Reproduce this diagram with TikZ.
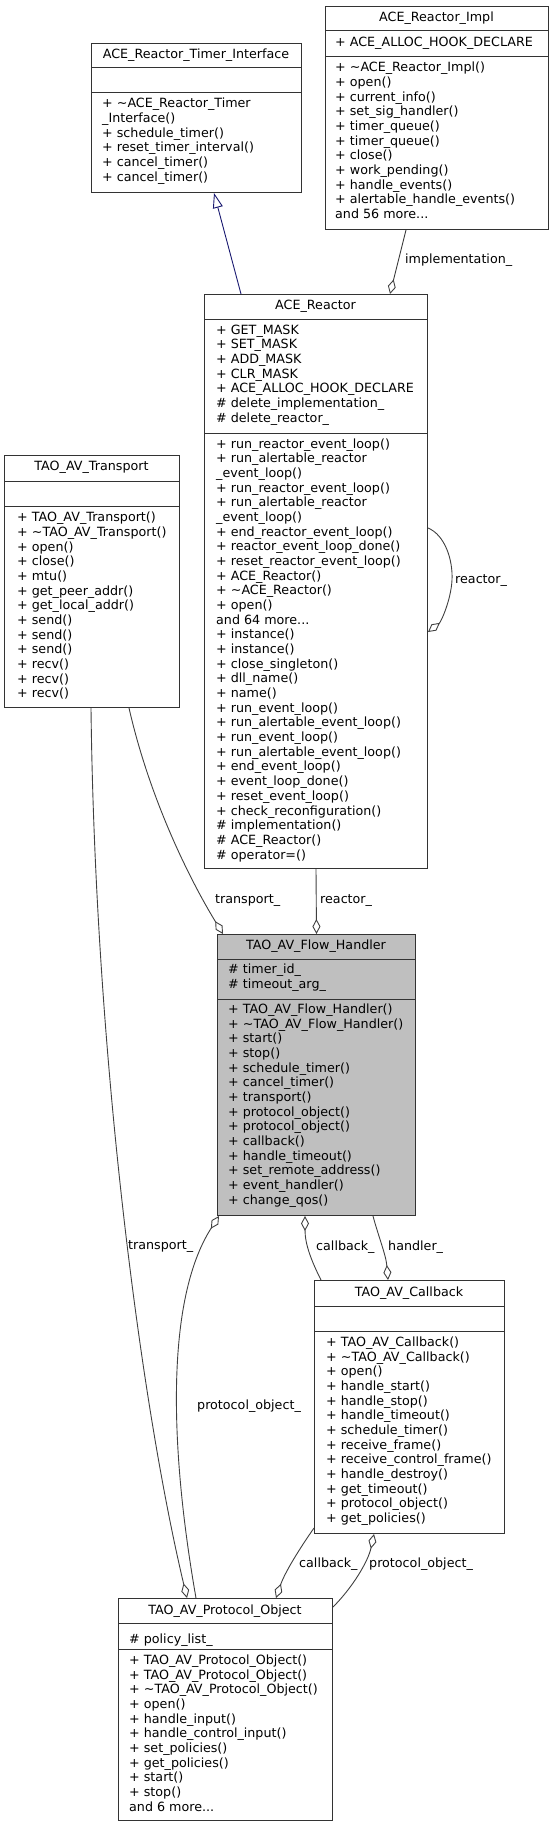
\documentclass[tikz,border=0pt]{standalone}
\usepackage{fontspec}
\setmainfont{DejaVu Sans}
\usetikzlibrary{arrows.meta}
\definecolor{edgegray}{HTML}{404040}
\definecolor{inhblue}{HTML}{191970}
\definecolor{curgray}{HTML}{BFBFBF}

\begin{document}
\begin{tikzpicture}[x=1pt,y=-1pt,
  font=\fontsize{12.7}{14.67}\selectfont,
  cls/.style={draw=black!80,line width=1pt,inner sep=0pt,anchor=north west},
  sep/.style={draw=black!80,line width=1pt},
  title/.style={anchor=base,inner sep=0pt},
  members/.style={anchor=north west,align=left,inner sep=0pt,execute at begin node=\strut},
  rel/.style={draw=edgegray,line width=0.9pt},
  hasa/.style={rel,-{Diamond[open,length=15pt,width=8pt]}},
  isa/.style={draw=inhblue,line width=0.9pt,-{Triangle[open,length=15pt,width=10pt]}},
  lbl/.style={anchor=west,inner sep=0pt}]
\useasboundingbox (0,0) rectangle (552,1827);

% ACE_Reactor_Timer_Interface
\node[cls,minimum width=210pt,minimum height=149pt] (timerif) at (91,43) {};
\draw[sep] (timerif.west |- 0,68) -- (timerif.east |- 0,68);
\draw[sep] (timerif.west |- 0,93) -- (timerif.east |- 0,93);
\node[title] (timerif-t) at (196,58.3) {ACE\_Reactor\_Timer\_Interface};
\node[members] (timerif-m) at (102,98) {+ \textasciitilde ACE\_Reactor\_Timer\\\_Interface()\\+ schedule\_timer()\\+ reset\_timer\_interval()\\+ cancel\_timer()\\+ cancel\_timer()};

% ACE_Reactor_Impl
\node[cls,minimum width=223pt,minimum height=223pt] (impl) at (325,6) {};
\draw[sep] (impl.west |- 0,31) -- (impl.east |- 0,31);
\draw[sep] (impl.west |- 0,57) -- (impl.east |- 0,57);
\node[title] (impl-t) at (436.5,21.3) {ACE\_Reactor\_Impl};
\node[members] (impl-a) at (335,36) {+ ACE\_ALLOC\_HOOK\_DECLARE};
\node[members] (impl-m) at (335,62) {+ \textasciitilde ACE\_Reactor\_Impl()\\+ open()\\+ current\_info()\\+ set\_sig\_handler()\\+ timer\_queue()\\+ timer\_queue()\\+ close()\\+ work\_pending()\\+ handle\_events()\\+ alertable\_handle\_events()\\and 56 more...};

% ACE_Reactor
\node[cls,minimum width=223pt,minimum height=574pt] (reactor) at (204,294) {};
\draw[sep] (reactor.west |- 0,319) -- (reactor.east |- 0,319);
\draw[sep] (reactor.west |- 0,433) -- (reactor.east |- 0,433);
\node[title] (reactor-t) at (315.5,309.7) {ACE\_Reactor};
\node[members] (reactor-a) at (216,324.4) {+ GET\_MASK\\+ SET\_MASK\\+ ADD\_MASK\\+ CLR\_MASK\\+ ACE\_ALLOC\_HOOK\_DECLARE\\\# delete\_implementation\_\\\# delete\_reactor\_};
\node[members] (reactor-m) at (216,438.4) {+ run\_reactor\_event\_loop()\\+ run\_alertable\_reactor\\\_event\_loop()\\+ run\_reactor\_event\_loop()\\+ run\_alertable\_reactor\\\_event\_loop()\\+ end\_reactor\_event\_loop()\\+ reactor\_event\_loop\_done()\\+ reset\_reactor\_event\_loop()\\+ ACE\_Reactor()\\+ \textasciitilde ACE\_Reactor()\\+ open()\\and 64 more...\\+ instance()\\+ instance()\\+ close\_singleton()\\+ dll\_name()\\+ name()\\+ run\_event\_loop()\\+ run\_alertable\_event\_loop()\\+ run\_event\_loop()\\+ run\_alertable\_event\_loop()\\+ end\_event\_loop()\\+ event\_loop\_done()\\+ reset\_event\_loop()\\+ check\_reconfiguration()\\\# implementation()\\\# ACE\_Reactor()\\\# operator=()};

% TAO_AV_Transport
\node[cls,minimum width=175pt,minimum height=252pt] (transport) at (4,455) {};
\draw[sep] (transport.west |- 0,481) -- (transport.east |- 0,481);
\draw[sep] (transport.west |- 0,506) -- (transport.east |- 0,506);
\node[title] (transport-t) at (91.5,470.7) {TAO\_AV\_Transport};
\node[members] (transport-m) at (17,512) {+ TAO\_AV\_Transport()\\+ \textasciitilde TAO\_AV\_Transport()\\+ open()\\+ close()\\+ mtu()\\+ get\_peer\_addr()\\+ get\_local\_addr()\\+ send()\\+ send()\\+ send()\\+ recv()\\+ recv()\\+ recv()};

% TAO_AV_Flow_Handler
\node[cls,fill=curgray,minimum width=198pt,minimum height=281pt] (flow) at (217,934) {};
\draw[sep] (flow.west |- 0,959) -- (flow.east |- 0,959);
\draw[sep] (flow.west |- 0,999) -- (flow.east |- 0,999);
\node[title] (flow-t) at (316,949) {TAO\_AV\_Flow\_Handler};
\node[members] (flow-a) at (228,963.7) {\# timer\_id\_\\\# timeout\_arg\_};
\node[members] (flow-m) at (228,1003.7) {+ TAO\_AV\_Flow\_Handler()\\+ \textasciitilde TAO\_AV\_Flow\_Handler()\\+ start()\\+ stop()\\+ schedule\_timer()\\+ cancel\_timer()\\+ transport()\\+ protocol\_object()\\+ protocol\_object()\\+ callback()\\+ handle\_timeout()\\+ set\_remote\_address()\\+ event\_handler()\\+ change\_qos()};

% TAO_AV_Callback
\node[cls,minimum width=190pt,minimum height=253pt] (callback) at (314,1280) {};
\draw[sep] (callback.west |- 0,1306) -- (callback.east |- 0,1306);
\draw[sep] (callback.west |- 0,1331) -- (callback.east |- 0,1331);
\node[title] (callback-t) at (409,1296) {TAO\_AV\_Callback};
\node[members] (callback-m) at (326,1336.7) {+ TAO\_AV\_Callback()\\+ \textasciitilde TAO\_AV\_Callback()\\+ open()\\+ handle\_start()\\+ handle\_stop()\\+ handle\_timeout()\\+ schedule\_timer()\\+ receive\_frame()\\+ receive\_control\_frame()\\+ handle\_destroy()\\+ get\_timeout()\\+ protocol\_object()\\+ get\_policies()};

% TAO_AV_Protocol_Object
\node[cls,minimum width=214pt,minimum height=222pt] (protocol) at (118,1598) {};
\draw[sep] (protocol.west |- 0,1623) -- (protocol.east |- 0,1623);
\draw[sep] (protocol.west |- 0,1649) -- (protocol.east |- 0,1649);
\node[title] (protocol-t) at (225,1614) {TAO\_AV\_Protocol\_Object};
\node[members] (protocol-a) at (129,1632.7) {\# policy\_list\_};
\node[members] (protocol-m) at (129,1654.7) {+ TAO\_AV\_Protocol\_Object()\\+ TAO\_AV\_Protocol\_Object()\\+ \textasciitilde TAO\_AV\_Protocol\_Object()\\+ open()\\+ handle\_input()\\+ handle\_control\_input()\\+ set\_policies()\\+ get\_policies()\\+ start()\\+ stop()\\and 6 more...};

% inheritance
\draw[isa] ([xshift=37pt]reactor.north west) -- ([xshift=123pt]timerif.south west);

% usage relations
\draw[hasa] ([xshift=81pt]impl.south west) -- ([xshift=186pt]reactor.north west);
\node[lbl] (l-impl) at (405,260) {implementation\_};
\draw[hasa] ([yshift=-234pt]reactor.north east) .. controls (445,535) and (453,560) .. (452,580) .. controls (451,600) and (441,622) .. ([yshift=-338pt]reactor.north east);
\node[lbl] (l-self) at (455,581) {reactor\_};
\draw[hasa] ([xshift=125pt]transport.south west) .. controls (150,800) and (190,880) .. ([xshift=6pt]flow.north west);
\node[lbl] (l-tr1) at (215,901) {transport\_};
\draw[hasa] (reactor.south) -- (flow.north);
\node[lbl] (l-re) at (320,901) {reactor\_};
\draw[hasa] ([xshift=87pt]transport.south west) .. controls (95,1050) and (140,1400) .. ([xshift=69pt]protocol.north west);
\node[lbl] (l-tr2) at (128,1247) {transport\_};
\draw[hasa] ([xshift=78pt]protocol.north west) .. controls (170,1450) and (165,1300) .. ([xshift=2pt]flow.south west);
\node[lbl] (l-po1) at (197,1406) {protocol\_object\_};
\draw[hasa] ([xshift=7pt]callback.north west) .. controls (312,1262) and (305,1245) .. ([xshift=88pt]flow.south west);
\node[lbl] (l-cb1) at (316,1247) {callback\_};
\draw[hasa] ([xshift=156pt]flow.south west) .. controls (378,1235) and (386,1255) .. ([xshift=74pt]callback.north west);
\node[lbl] (l-ha) at (388,1247) {handler\_};
\draw[hasa] ([yshift=-248pt]callback.north west) .. controls (300,1548) and (285,1572) .. ([xshift=158pt]protocol.north west);
\node[lbl] (l-cb2) at (299,1564) {callback\_};
\draw[hasa] ([yshift=-9pt]protocol.north east) .. controls (352,1588) and (368,1562) .. ([xshift=60pt]callback.south west);
\node[lbl] (l-po2) at (369,1564) {protocol\_object\_};
\end{tikzpicture}
\end{document}
